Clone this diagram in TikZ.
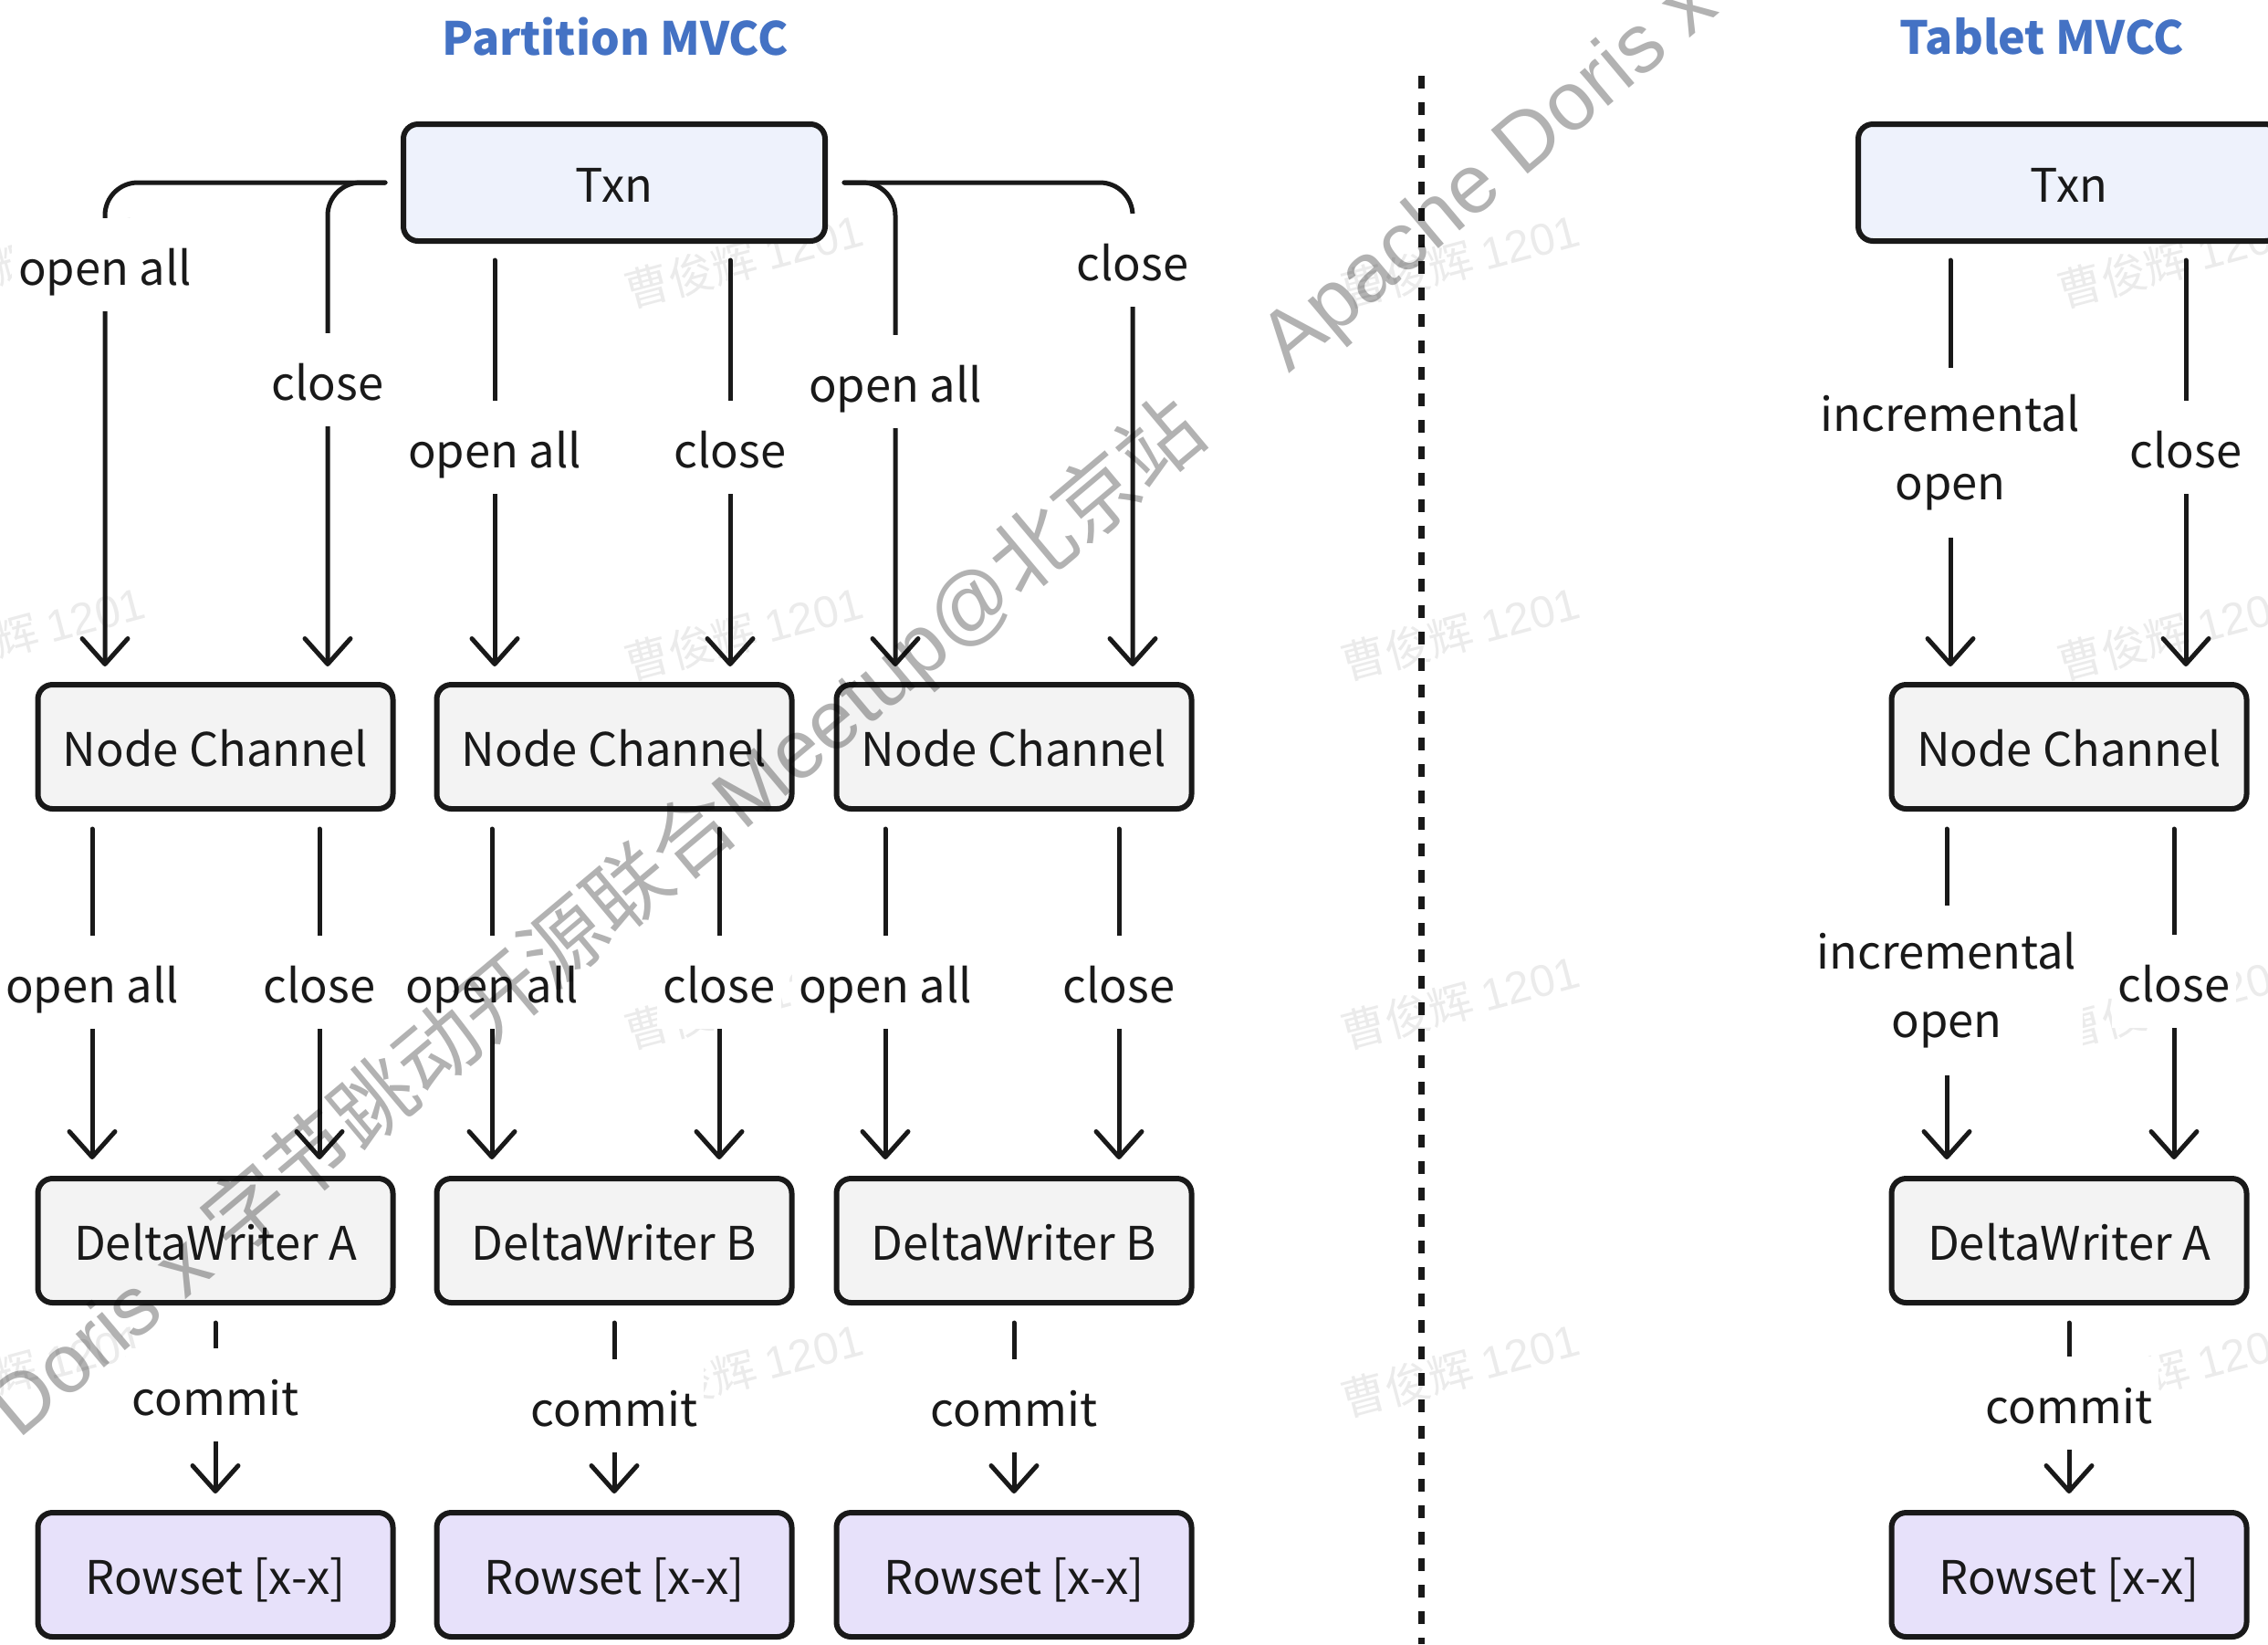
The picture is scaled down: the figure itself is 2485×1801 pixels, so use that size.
\documentclass[tikz,border=0pt]{standalone}
\usepackage{fontspec}
\setmainfont{Noto Sans CJK SC}
\newfontfamily\wmlatin{Liberation Sans}
\newfontfamily\wmcjk{Noto Sans CJK SC}
\usetikzlibrary{arrows.meta,calc}

\definecolor{txnfill}{RGB}{238,242,252}
\definecolor{boxfill}{RGB}{243,243,243}
\definecolor{rowfill}{RGB}{231,225,250}
\definecolor{titleblue}{RGB}{68,114,196}
\definecolor{ink}{RGB}{25,25,25}

\newcommand{\wmtext}{Apache Doris x {\wmcjk 字节跳动开源联合}Meetup@{\wmcjk 北京站}}

\begin{document}
\begin{tikzpicture}[x=0.3pt,y=-0.3pt,
  box/.style={draw=ink, line width=1.8pt, rounded corners=4.8pt,
    minimum width=116.7pt, minimum height=40.8pt, inner sep=0pt,
    text height=13pt, text depth=0pt,
    font=\fontsize{15.2}{19}\selectfont, text=ink},
  txnbox/.style={box, fill=txnfill, minimum width=138.6pt, minimum height=38.4pt},
  chanbox/.style={box, fill=boxfill},
  rowbox/.style={box, fill=rowfill},
  flow/.style={draw=ink, line width=1.5pt, line cap=round,
    -{Straight Barb[length=8.4pt,width=15pt,round]}},
  lbl/.style={fill=white, inner xsep=2pt, inner ysep=7.8pt,
    text height=14.4pt, text depth=0.8pt,
    font=\fontsize{15.2}{22.5}\selectfont, text=ink},
  lbltwo/.style={fill=white, inner xsep=2pt, inner ysep=9pt, align=center,
    font=\fontsize{15.2}{22.5}\selectfont, text=ink},
  heading/.style={font=\fontsize{15}{19}\selectfont\bfseries, text=titleblue},
  faintmark/.style={font=\fontsize{14.7}{16}\selectfont, text=black,
    text opacity=0.08, rotate=15, inner sep=0pt},
  bigmark/.style={font=\wmlatin\fontsize{27.3}{30}\selectfont, text=black,
    text opacity=0.3, rotate=40, inner sep=0pt},
]
% page
\fill[white] (0,0) rectangle (2485,1801);
\useasboundingbox (0,0) rectangle (2485,1801);

% faint name stamps
\foreach \fx in {28,815,1600,2385}
  \foreach \fy in {285,693,1097,1500}
    \node[faintmark] at (\fx,\fy) {{\wmcjk 曹俊辉} {\wmlatin 1201}};

% headings
\node[heading] (hpart) at (674,40) {Partition MVCC};
\node[heading] (htab) at (2237,40) {Tablet MVCC};

% divider
\coordinate (divtop) at (1557,83);
\coordinate (divbot) at (1557,1801);
\draw[ink, line width=2.1pt, dash pattern=on 4.2pt off 4.5pt] (divtop) -- (divbot);

% ---- Partition MVCC ----
\node[txnbox] (txnL) at (673,200) {Txn};
\node[chanbox] (nc1) at (236,818) {Node Channel};
\node[chanbox] (nc2) at (673,818) {Node Channel};
\node[chanbox] (nc3) at (1111,818) {Node Channel};
\node[chanbox] (dw1) at (236,1359) {DeltaWriter A};
\node[chanbox] (dw2) at (673,1359) {DeltaWriter B};
\node[chanbox] (dw3) at (1111,1359) {DeltaWriter B};
\node[rowbox] (rs1) at (236,1725) {Rowset [x-x]};
\node[rowbox] (rs2) at (673,1725) {Rowset [x-x]};
\node[rowbox] (rs3) at (1111,1725) {Rowset [x-x]};

% Txn to node channels
\draw[flow, rounded corners=10.8pt] ($(txnL.west)+(-17,0)$) -| ($(nc1.north)+(-121,-17)$);
\draw[flow, rounded corners=10.8pt] ($(txnL.west)+(-17,0)$) -| ($(nc1.north)+(123,-17)$);
\draw[flow] ($(txnL.south)+(-131,18)$) -- ($(nc2.north)+(-131,-17)$);
\draw[flow] ($(txnL.south)+(127,18)$) -- ($(nc2.north)+(127,-17)$);
\draw[flow, rounded corners=10.8pt] ($(txnL.east)+(18,0)$) -| ($(nc3.north)+(-130,-17)$);
\draw[flow, rounded corners=10.8pt] ($(txnL.east)+(18,0)$) -| ($(nc3.north)+(130,-17)$);

\node[lbl] (t1) at (115,290) {open all};
\node[lbl] (t2) at (359,416) {close};
\node[lbl] (t3) at (542,490) {open all};
\node[lbl] (t4) at (800,490) {close};
\node[lbl] (t5) at (981,418) {open all};
\node[lbl] (t6) at (1241,285) {close};

% node channels to delta writers
\draw[flow] ($(nc1.south)+(-135,19)$) -- ($(dw1.north)+(-135,-18)$);
\draw[flow] ($(nc1.south)+(114,19)$) -- ($(dw1.north)+(114,-18)$);
\draw[flow] ($(nc2.south)+(-134,19)$) -- ($(dw2.north)+(-134,-18)$);
\draw[flow] ($(nc2.south)+(115,19)$) -- ($(dw2.north)+(115,-18)$);
\draw[flow] ($(nc3.south)+(-141,19)$) -- ($(dw3.north)+(-141,-18)$);
\draw[flow] ($(nc3.south)+(115,19)$) -- ($(dw3.north)+(115,-18)$);

\node[lbl] (m1) at (101,1076) {open all};
\node[lbl] (m2) at (350,1076) {close};
\node[lbl] (m3) at (539,1076) {open all};
\node[lbl] (m4) at (788,1076) {close};
\node[lbl] (m5) at (970,1076) {open all};
\node[lbl] (m6) at (1226,1076) {close};

% delta writers to rowsets
\draw[flow] ($(dw1.south)+(0,19)$) -- ($(rs1.north)+(0,-18)$);
\draw[flow] ($(dw2.south)+(0,19)$) -- ($(rs2.north)+(0,-18)$);
\draw[flow] ($(dw3.south)+(0,19)$) -- ($(rs3.north)+(0,-18)$);
\node[lbl] (c1) at (236,1528) {commit};
\node[lbl] (c2) at (673,1540) {commit};
\node[lbl] (c3) at (1111,1540) {commit};

% ---- Tablet MVCC ----
\node[txnbox] (txnR) at (2267,200) {Txn};
\node[chanbox] (ncR) at (2267,818) {Node Channel};
\node[chanbox] (dwR) at (2267,1359) {DeltaWriter A};
\node[rowbox] (rsR) at (2267,1725) {Rowset [x-x]};

\draw[flow] ($(txnR.south)+(-130,18)$) -- ($(ncR.north)+(-130,-17)$);
\draw[flow] ($(txnR.south)+(128,18)$) -- ($(ncR.north)+(128,-17)$);
\node[lbltwo] (r1) at (2137,496) {incremental\\open};
\node[lbl] (r2) at (2395,490) {close};

\draw[flow] ($(ncR.south)+(-134,19)$) -- ($(dwR.north)+(-134,-18)$);
\draw[flow] ($(ncR.south)+(115,19)$) -- ($(dwR.north)+(115,-18)$);
\node[lbltwo] (r3) at (2133,1085) {incremental\\open};
\node[lbl] (r4) at (2382,1075) {close};

\draw[flow] ($(dwR.south)+(0,19)$) -- ($(rsR.north)+(0,-18)$);
\node[lbl] (r5) at (2267,1537) {commit};

% event banner stamp
\node[bigmark, anchor=base west] (wm1) at (1412,410) {\wmtext};
\node[bigmark, anchor=base east] (wm2) at (1327,481) {\wmtext};
\end{tikzpicture}
\end{document}
